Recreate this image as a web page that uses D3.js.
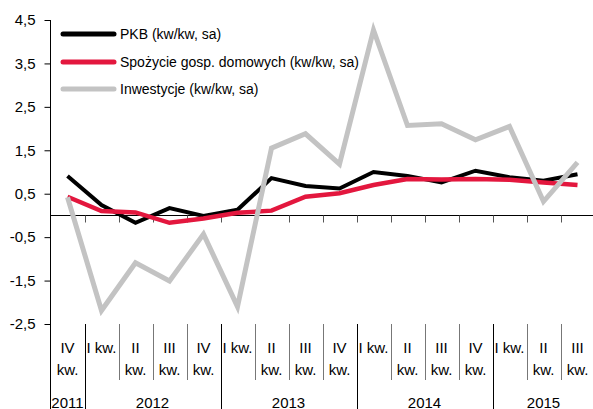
<!DOCTYPE html>
<html>
<head>
<meta charset="utf-8">
<script src="https://cdn.jsdelivr.net/npm/d3@7/dist/d3.min.js"></script>
<style>
  html, body { margin: 0; padding: 0; background: #fff; }
  svg { display: block; }
  text { font-family: "Liberation Sans", Arial, sans-serif; fill: #000; }
</style>
</head>
<body>
<svg id="chart" width="593" height="409"></svg>
<script>
// ---- data ----
const quarters = ["IV","I","II","III","IV","I","II","III","IV","I","II","III","IV","I","II","III"];
const quarterYears = [2011,2012,2012,2012,2012,2013,2013,2013,2013,2014,2014,2014,2014,2015,2015,2015];
const pkb = [0.91, 0.24, -0.17, 0.17, -0.01, 0.13, 0.86, 0.68, 0.62, 1.00, 0.91, 0.76, 1.03, 0.88, 0.80, 0.95];
const spozycie = [0.43, 0.10, 0.07, -0.17, -0.07, 0.06, 0.11, 0.43, 0.51, 0.70, 0.84, 0.83, 0.84, 0.82, 0.76, 0.70];
const inwestycje = [0.42, -2.19, -1.09, -1.51, -0.43, -2.10, 1.55, 1.88, 1.18, 4.27, 2.07, 2.11, 1.74, 2.05, 0.32, 1.22];
const yTicks = [4.5, 3.5, 2.5, 1.5, 0.5, -0.5, -1.5, -2.5];
const seriesNames = ["PKB (kw/kw, sa)", "Spożycie gosp. domowych (kw/kw, sa)", "Inwestycje (kw/kw, sa)"];
const seriesColors = ["#000000", "#e3173e", "#c3c3c3"];

// ---- layout ----
const svg = d3.select("#chart");
const left = 50.5, bandW = 34;
const x = d3.scaleBand().domain(d3.range(quarters.length)).range([left, left + bandW * quarters.length]).padding(0);
const y = d3.scaleLinear().domain([-2.5, 4.5]).range([324, 20]);
const fmt = v => d3.format(".1f")(v).replace(".", ",").replace("−", "-");

// y axis
const yAxis = d3.axisLeft(y).tickValues(yTicks).tickFormat(fmt).tickSize(6).tickPadding(9);
const gy = svg.append("g").attr("transform", `translate(${left},0)`).call(yAxis);
gy.select(".domain").remove();
gy.selectAll(".tick line").attr("stroke", "#000");
gy.selectAll(".tick text").attr("font-size", 15).attr("font-family", "Liberation Sans, Arial, sans-serif").attr("fill", "#000");
svg.append("line").attr("x1", left).attr("x2", left).attr("y1", y(4.5)).attr("y2", 409).attr("stroke", "#000").attr("stroke-width", 1);

// zero line with ticks
const y0 = Math.round(y(0)) + 0.5;
svg.append("line").attr("x1", left).attr("x2", 593).attr("y1", y0).attr("y2", y0).attr("stroke", "#000");
d3.range(1, quarters.length).forEach(i => {
  const xx = Math.round(x(i)) + 0.5;
  svg.append("line").attr("x1", xx).attr("x2", xx).attr("y1", y0).attr("y2", y0 + 7).attr("stroke", "#555");
});

// category dividers and labels
d3.range(1, quarters.length).forEach(i => {
  const xx = Math.round(x(i)) + 0.5;
  const yearStart = quarterYears[i] !== quarterYears[i - 1];
  svg.append("line").attr("x1", xx).attr("x2", xx).attr("y1", 324).attr("y2", yearStart ? 409 : 380)
    .attr("stroke", yearStart ? "#000" : "#777");
});
quarters.forEach((q, i) => {
  const cx = x(i) + bandW / 2;
  if (q === "I") {
    svg.append("text").attr("x", cx).attr("y", 353).attr("text-anchor", "middle").attr("font-size", 15).text(q + " kw.");
  } else {
    svg.append("text").attr("x", cx).attr("y", 353).attr("text-anchor", "middle").attr("font-size", 15).text(q);
    svg.append("text").attr("x", cx).attr("y", 375).attr("text-anchor", "middle").attr("font-size", 15).text("kw.");
  }
});
const yearGroups = d3.groups(quarterYears.map((yr, i) => ({yr, i})), d => d.yr);
yearGroups.forEach(([yr, items]) => {
  const x1 = x(items[0].i), x2 = x(items[items.length - 1].i) + bandW;
  svg.append("text").attr("x", (x1 + x2) / 2).attr("y", 407.5).attr("text-anchor", "middle").attr("font-size", 15).text(yr);
});

// series lines
const line = d3.line().x((d, i) => x(i) + bandW / 2).y(d => y(d));
[pkb, spozycie, inwestycje].forEach((s, k) => {
  svg.append("path").datum(s).attr("d", line).attr("fill", "none")
    .attr("stroke", seriesColors[k]).attr("stroke-width", k === 0 ? 4 : (k === 1 ? 4.5 : 5));
});

// legend
const legY = [34, 62, 89];
seriesNames.forEach((n, k) => {
  svg.append("line").attr("x1", 63).attr("x2", 114).attr("y1", legY[k]).attr("y2", legY[k])
    .attr("stroke", seriesColors[k]).attr("stroke-width", 5).attr("stroke-linecap", "round");
  svg.append("text").attr("x", 120).attr("y", legY[k] + 5).attr("font-size", 14).text(n);
});
</script>
</body>
</html>
